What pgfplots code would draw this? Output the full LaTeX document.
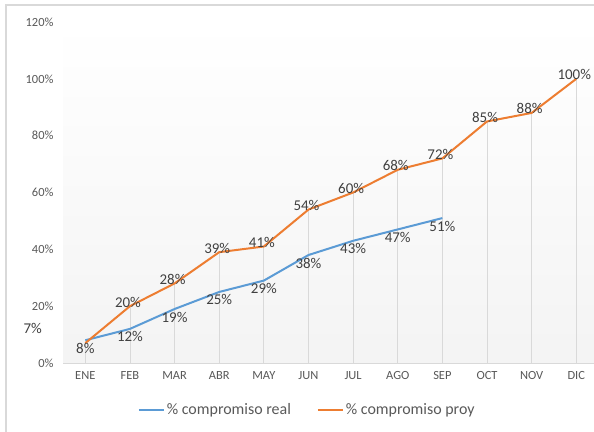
\documentclass[border=0pt]{standalone}
\usepackage{fontspec}
\setmainfont{Carlito}
\usepackage{pgfplots}
\pgfplotsset{compat=1.18}
\definecolor{serieA}{HTML}{5B9BD5}
\definecolor{serieB}{HTML}{ED7D31}
\definecolor{etiq}{HTML}{404040}
\definecolor{ejes}{HTML}{595959}
\definecolor{rejilla}{HTML}{D9D9D9}

\pgfplotstableread{
x real
0 8
1 12
2 19
3 25
4 29
5 38
6 43
7 47
8 51
}\real

\pgfplotstableread{
x proy
0 7
1 20
2 28
3 39
4 41
5 54
6 60
7 68
8 72
9 85
10 88
11 100
}\proy

\begin{document}
\begin{tikzpicture}
\useasboundingbox (0,0) rectangle (594bp,432bp);
\begin{scope}
\clip (0,0) rectangle (594bp,432bp);
\fill[white] (0,0) rectangle (594bp,432bp);
\draw[rejilla, line width=1.2bp] (6bp,-5bp) rectangle (610bp,427bp);
\begin{axis}[
    at={(63bp,69bp)}, anchor=south west,
    scale only axis,
    width=535.6bp, height=341bp,
    xmin=-0.5, xmax=11.5,
    ymin=0, ymax=120,
    xtick={0,...,11},
    xticklabels={ENE,FEB,MAR,ABR,MAY,JUN,JUL,AGO,SEP,OCT,NOV,DIC},
    ytick={0,20,...,120},
    yticklabel={\pgfmathprintnumber{\tick}\%},
    /pgf/number format/assume math mode=true,
    tick label style={font=\fontsize{12.5}{14}\selectfont, text=ejes},
    xticklabel style={yshift=-5bp},
    yticklabel style={xshift=-6bp},
    major tick length=0pt,
    axis x line*=bottom,
    axis y line*=left,
    y axis line style={draw=none},
    x axis line style={rejilla, line width=1bp, -},
    axis background/.style={top color=white, bottom color=gray!9},
    unbounded coords=discard,
    clip=false,
    legend style={
        at={(rel axis cs:0.456,-0.138)}, anchor=center,
        draw=none, fill=none,
        legend columns=2,
        font=\fontsize{16}{18}\selectfont,
        text=ejes,
        /tikz/every even column/.append style={column sep=24bp},
    },
    legend image code/.code={\draw[#1] (0bp,0bp) -- (25bp,0bp);},
    every node near coord/.append style={font=\fontsize{15}{16}\selectfont, text=etiq},
]
\addplot[ycomb, rejilla, line width=0.8bp, forget plot] table[x=x, y=proy] {\proy};
\addplot[serieA, line width=2bp, no marks,
    nodes near coords={\pgfmathprintnumber{\pgfplotspointmeta}\%},
    every node near coord/.append style={anchor=center, yshift=-8bp}]
    table[x=x, y=real] {\real};
\addlegendentry{\% compromiso real}
\addplot[serieB, line width=2bp, no marks] table[x=x, y=proy] {\proy};
\addlegendentry{\% compromiso proy}
\addplot[draw=none, no marks, forget plot,
    x filter/.expression={x<0.5 ? nan : x},
    nodes near coords={\pgfmathprintnumber{\pgfplotspointmeta}\%},
    every node near coord/.append style={anchor=center, yshift=4bp, xshift=-2bp}]
    table[x=x, y=proy] {\proy};
\addplot[draw=none, no marks, forget plot,
    x filter/.expression={x>0.5 ? nan : x},
    nodes near coords={\pgfmathprintnumber{\pgfplotspointmeta}\%},
    every node near coord/.append style={anchor=east, xshift=-40bp, yshift=15bp}]
    table[x=x, y=proy] {\proy};
\end{axis}
\end{scope}
\end{tikzpicture}
\end{document}
